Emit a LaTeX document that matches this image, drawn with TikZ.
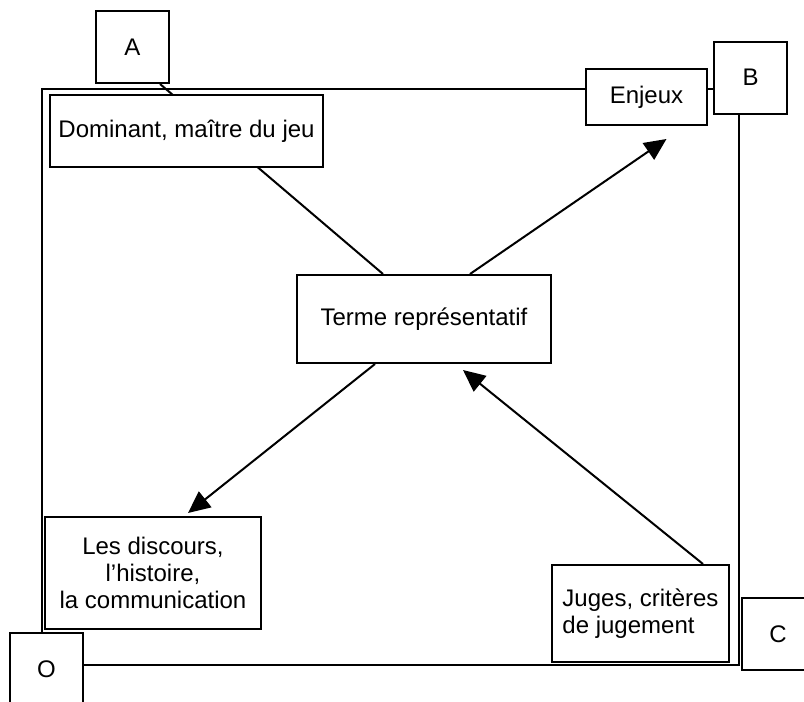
\documentclass[tikz,border=0pt]{standalone}
\usepackage{fontspec}
\setmainfont{Liberation Sans}
\usetikzlibrary{arrows.meta}

\begin{document}
\begin{tikzpicture}[x=0.5pt,y=-0.5pt,line width=1pt,
    >={Triangle[length=11pt,width=10pt]},
    box/.style={draw,fill=white,rectangle,inner sep=0pt,
        font=\fontsize{12pt}{13.5pt}\selectfont},
    corner/.style={box,minimum width=36.5pt,minimum height=36pt}]
    \useasboundingbox (0,0) rectangle (804,702);

    % Corner boxes
    \node[corner] (A) at (132.5,47) {A};
    \node[corner] (B) at (750.5,77.5) {B};
    \node[corner] (O) at (46.5,669) {O};
    \node[corner] (C) at (778,634) {C};

    % Draw the frame
    \coordinate (tl) at (42,89);
    \coordinate (br) at (739,665);
    \draw (tl |- O.north) -- (tl) -- (tl -| B.west);
    \draw (br |- B.south) -- (br) -- (O.east |- br);

    % Boxes
    \node[box,minimum width=127pt,minimum height=44pt] (terme) at (424,319) {Terme représentatif};
    \node[box,minimum width=60.5pt,minimum height=28pt] (enjeux) at (646.5,97) {Enjeux};
    \node[box,minimum width=108pt,minimum height=56pt,align=center] (discours) at (153,573)
        {Les discours,\\l’histoire,\\la communication};
    \node[box,minimum width=88.5pt,minimum height=48.5pt,align=left] (juges) at (640.5,613.5)
        {Juges, critères\\de jugement};

    % Line from A, hidden under the box
    \draw ([xshift=13.75pt]A.south) -- ([xshift=-20.5pt]terme.north);
    \node[box,minimum width=136.5pt,minimum height=36pt] (dominant) at (186.5,131) {Dominant, maître du jeu};

    % Draw the arrows
    \coordinate (enjtip) at ([xshift=10pt,yshift=-6.5pt]enjeux.south);
    \coordinate (distip) at ([xshift=17.5pt,yshift=1.5pt]discours.north);
    \coordinate (termtip) at ([xshift=19.5pt,yshift=-3pt]terme.south);
    \draw[->] ([xshift=23pt]terme.north) -- (enjtip);
    \draw[->] ([xshift=-24.5pt]terme.south) -- (distip);
    \draw[->] ([xshift=31.25pt]juges.north) -- (termtip);
\end{tikzpicture}
\end{document}
